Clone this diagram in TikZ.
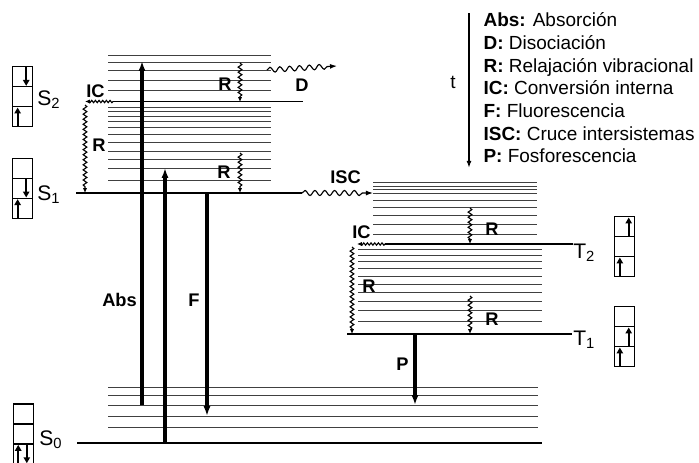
\documentclass[tikz,border=0pt]{standalone}
\usepackage{fontspec}
\setmainfont{Liberation Sans}
\usetikzlibrary{positioning, arrows.meta, decorations.pathmorphing}

\begin{document}
\begin{tikzpicture}[
  x=0.025cm, y=-0.025cm,
  lev/.style={black!75, line width=0.6pt},
  state/.style={black, line width=1pt},
  big/.style={line width=2.2pt, -{Latex[length=7pt,width=5pt]}},
  cell/.style={draw, line width=0.9pt, minimum width=0.5cm, minimum height=0.5cm,
               inner sep=0pt, outer sep=0pt},
  spin/.style={line width=1.6pt, shorten >=0.6pt, -{Triangle[length=4.2pt,width=4.5pt]}},
  relax/.style={line width=0.8pt, decorate,
                decoration={snake, amplitude=1.3pt, segment length=3.6pt, post length=3pt},
                -{Latex[length=3.5pt,width=3pt]}},
  icw/.style={line width=0.8pt, decorate,
              decoration={snake, amplitude=0.8pt, segment length=2.6pt, post length=1.5pt},
              -{Latex[length=3.5pt,width=3pt]}},
  cross/.style={line width=0.8pt, decorate,
                decoration={snake, amplitude=1.8pt, segment length=7pt, post length=5pt},
                -{Latex[length=5pt,width=3.5pt]}},
  lbl/.style={font=\fontsize{13}{15}\selectfont\bfseries, inner sep=0pt, anchor=base west},
  st/.style={font=\fontsize{15}{17}\selectfont, inner sep=0pt, anchor=base west},
  leg/.style={font=\fontsize{13.5}{15}\selectfont, inner sep=0pt, anchor=base west},
]
  \useasboundingbox (0,0) rectangle (699,462);

  % ── Vibrational levels ──
  \foreach \y in {55.5,62,70.5,80,90} { \draw[lev] (108,\y) -- (271,\y); }
  \foreach \y in {107.7,111.7,116,121,127.3,134.3,142.3,151.7,159.3,168.3,180.3} { \draw[lev] (108,\y) -- (271,\y); }
  \foreach \y in {182.3,186,189.5,193,200,207,215.3,224.2,234} { \draw[lev] (373,\y) -- (537,\y); }
  \foreach \y in {249.3,255.5,261.7,268.7,276,284,292.5,301,310,321.7} { \draw[lev] (358,\y) -- (542,\y); }
  \foreach \y in {387,395,405,416,427} { \draw[lev] (108,\y) -- (538,\y); }

  % ── Electronic states ──
  \draw[state] (113,101.5) -- (303,101.5);
  \draw[state] (76,193) -- (302,193);
  \draw[state] (77,443) -- (542,443);
  \draw[state] (385,244) -- (573,244);
  \draw[state] (347,334) -- (572,334);

  \node[st] (s2) at (37,105) {S\textsubscript{2}};
  \node[st] (s1) at (37,200) {S\textsubscript{1}};
  \node[st] (s0) at (39,445) {S\textsubscript{0}};
  \node[st] (t2) at (573,258) {T\textsubscript{2}};
  \node[st] (t1) at (573,345) {T\textsubscript{1}};

  % ── Spin boxes ──
  \node[cell] (s2a) at (22.7,76.7) {};
  \node[cell, below=0pt of s2a] (s2b) {};
  \node[cell, below=0pt of s2b] (s2c) {};
  \draw[spin] ([xshift=2.5pt]s2a.north) -- ([xshift=2.5pt]s2a.south);
  \draw[spin] ([xshift=-3.6pt]s2c.south) -- ([xshift=-3.6pt]s2c.north);

  \node[cell] (s1a) at (22.7,168.3) {};
  \node[cell, below=0pt of s1a] (s1b) {};
  \node[cell, below=0pt of s1b] (s1c) {};
  \draw[spin] ([xshift=2.5pt]s1b.north) -- ([xshift=2.5pt]s1b.south);
  \draw[spin] ([xshift=-3.6pt]s1c.south) -- ([xshift=-3.6pt]s1c.north);

  \node[cell] (s0a) at (23.3,414) {};
  \node[cell, below=0pt of s0a] (s0b) {};
  \node[cell, below=0pt of s0b] (s0c) {};
  \draw[spin] ([xshift=-3.6pt]s0c.south) -- ([xshift=-3.6pt]s0c.north);
  \draw[spin] ([xshift=2.5pt]s0c.north) -- ([xshift=2.5pt]s0c.south);

  \node[cell] (t2a) at (624.5,226.7) {};
  \node[cell, below=0pt of t2a] (t2b) {};
  \node[cell, below=0pt of t2b] (t2c) {};
  \draw[spin] ([xshift=3pt]t2a.south) -- ([xshift=3pt]t2a.north);
  \draw[spin] ([xshift=-3.3pt]t2c.south) -- ([xshift=-3.3pt]t2c.north);

  \node[cell] (t1a) at (624.5,316.7) {};
  \node[cell, below=0pt of t1a] (t1b) {};
  \node[cell, below=0pt of t1b] (t1c) {};
  \draw[spin] ([xshift=3pt]t1b.south) -- ([xshift=3pt]t1b.north);
  \draw[spin] ([xshift=-3.3pt]t1c.south) -- ([xshift=-3.3pt]t1c.north);

  % ── Radiative transitions ──
  \coordinate (abs0) at (142,405);  \coordinate (abs1) at (142,61);
  \coordinate (exc0) at (165,443);  \coordinate (exc1) at (165,168);
  \coordinate (fl0) at (207,193);   \coordinate (fl1) at (207,416);
  \coordinate (ph0) at (415,334);   \coordinate (ph1) at (415,405);
  \draw[big] (abs0) -- (abs1);
  \draw[big] (exc0) -- (exc1);
  \draw[big] (fl0) -- (fl1);
  \draw[big] (ph0) -- (ph1);
  \node[lbl] (abs) at (102,306.5) {Abs};
  \node[lbl] (fl) at (188,306.5) {F};
  \node[lbl] (ph) at (396,370) {P};

  % ── Non-radiative transitions ──
  \coordinate (rs2a) at (240,63);   \coordinate (rs2b) at (240,102);
  \coordinate (rs1a) at (240,153);  \coordinate (rs1b) at (240,193);
  \coordinate (ics0) at (113,101.5); \coordinate (ics1) at (85,101.5);
  \coordinate (rsa) at (85,105);    \coordinate (rsb) at (85,193);
  \coordinate (dis0) at (267,70);   \coordinate (dis1) at (337,66);
  \coordinate (isc0) at (302,193);  \coordinate (isc1) at (373,193);
  \coordinate (ict0) at (385,244);  \coordinate (ict1) at (357,244);
  \coordinate (rta) at (352,247);   \coordinate (rtb) at (352,334);
  \coordinate (rt2a) at (470,208);  \coordinate (rt2b) at (470,244);
  \coordinate (rt1a) at (470,296);  \coordinate (rt1b) at (470,334);
  \draw[relax] (rs2a) -- (rs2b);
  \draw[relax] (rs1a) -- (rs1b);
  \draw[icw] (ics0) -- (ics1);
  \draw[relax] (rsa) -- (rsb);
  \draw[cross] (dis0) -- (dis1);
  \draw[cross] (isc0) -- (isc1);
  \draw[icw] (ict0) -- (ict1);
  \draw[relax] (rta) -- (rtb);
  \draw[relax] (rt2a) -- (rt2b);
  \draw[relax] (rt1a) -- (rt1b);

  \node[lbl] (rs2) at (218,90) {R};
  \node[lbl] (rs1) at (217,178) {R};
  \node[lbl] (ics) at (86,97) {IC};
  \node[lbl] (rs) at (92,151.5) {R};
  \node[lbl] (dis) at (295,91.5) {D};
  \node[lbl] (isc) at (330,183) {ISC};
  \node[lbl] (ict) at (352,238) {IC};
  \node[lbl] (rt) at (362,292.5) {R};
  \node[lbl] (rt2) at (485,235) {R};
  \node[lbl] (rt1) at (485,325) {R};

  % ── Legend ──
  \coordinate (time0) at (469,13);  \coordinate (time1) at (469,168);
  \draw[line width=1pt, -{Latex[length=5pt,width=3.5pt]}] (time0) -- (time1);
  \node[leg] (time) at (450,88) {t};
  \node[leg] (l1) at (483.3,26.7)  {\textbf{Abs:} Absorción};
  \node[leg] (l2) at (483.3,49.4)  {\textbf{D:} Disociación};
  \node[leg] (l3) at (483.3,72.1)  {\textbf{R:} Relajación vibracional};
  \node[leg] (l4) at (483.3,94.8)  {\textbf{IC:} Conversión interna};
  \node[leg] (l5) at (483.3,117.5) {\textbf{F:} Fluorescencia};
  \node[leg] (l6) at (483.3,140.2) {\textbf{ISC:} Cruce intersistemas};
  \node[leg] (l7) at (483.3,162.9) {\textbf{P:} Fosforescencia};

\end{tikzpicture}
\end{document}
